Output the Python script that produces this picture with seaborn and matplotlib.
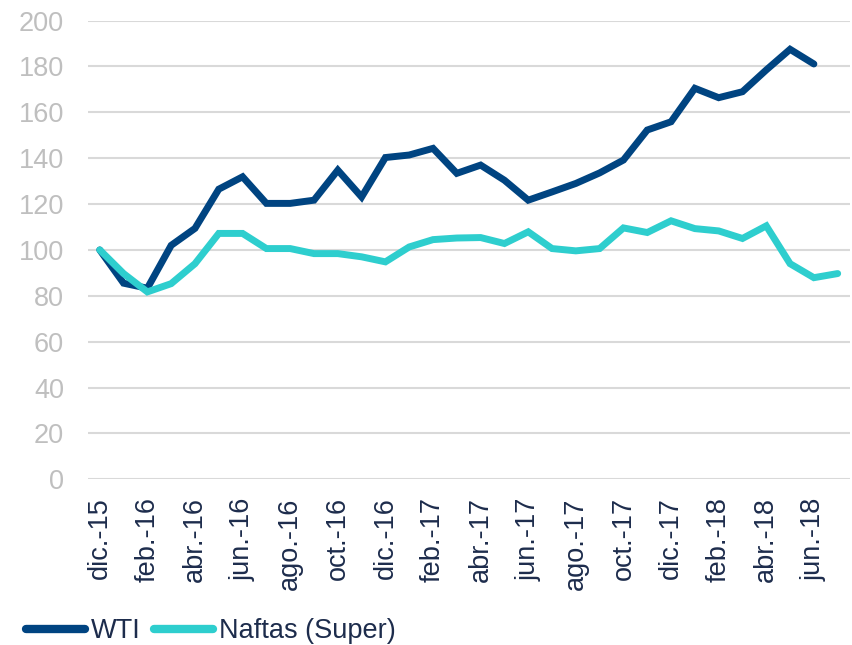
import numpy as np
import pandas as pd
import matplotlib
matplotlib.use("Agg")
import matplotlib.pyplot as plt
import seaborn as sns

meses = ["dic.-15", "ene.-16", "feb.-16", "mar.-16", "abr.-16", "may.-16", "jun.-16", "jul.-16",
         "ago.-16", "sep.-16", "oct.-16", "nov.-16", "dic.-16", "ene.-17", "feb.-17", "mar.-17",
         "abr.-17", "may.-17", "jun.-17", "jul.-17", "ago.-17", "sep.-17", "oct.-17", "nov.-17",
         "dic.-17", "ene.-18", "feb.-18", "mar.-18", "abr.-18", "may.-18", "jun.-18", "jul.-18"]
wti = [100, 85.5, 83.3, 102, 109.4, 126.5, 131.9, 120.3, 120.3, 121.7, 134.8, 123.1, 140.3,
       141.4, 144.3, 133.4, 137, 130.4, 121.7, 125.3, 129, 133.6, 139.2, 152.3, 155.9, 170.5,
       166.4, 169, 178.5, 187.5, 181.1, np.nan]
naftas = [100, 89.7, 81.7, 85.3, 94, 107.2, 107.2, 100.6, 100.6, 98.4, 98.4, 97, 94.8, 101.3,
          104.5, 105.2, 105.4, 102.8, 107.9, 100.6, 99.6, 100.6, 109.6, 107.6, 112.7, 109.3,
          108.3, 105, 110.5, 94, 87.9, 89.7]

df = pd.DataFrame({"idx": range(len(meses)), "WTI": wti, "Naftas (Super)": naftas})
df = df.melt(id_vars="idx", var_name="serie", value_name="valor").dropna()

sns.set_style("white")
plt.rcParams['font.family'] = ['Liberation Sans', 'DejaVu Sans']

fig = plt.figure(figsize=(8.53, 6.45), dpi=100)
ax = fig.add_axes([0.103, 0.257, 0.893, 0.711])

sns.lineplot(data=df, x="idx", y="valor", hue="serie",
             palette={"WTI": "#004481", "Naftas (Super)": "#2ECECE"},
             linewidth=5, ax=ax, solid_capstyle="round", solid_joinstyle="miter")

ax.set_xlim(-0.5, len(meses) - 0.5)
ax.set_ylim(0, 200)
ax.set_yticks(range(0, 201, 20))
ax.grid(axis="y", color="#d9d9d9", linewidth=1.5)
ax.set_axisbelow(True)
for s in ["top", "right", "left", "bottom"]:
    ax.spines[s].set_visible(False)

ax.set_xticks(range(0, len(meses), 2))
ax.set_xticklabels(meses[::2], rotation=90, fontsize=19.5, color="#1d2c4c")
ax.set_xticks(np.arange(-0.5, len(meses), 2), minor=True)
ax.tick_params(axis="x", which="major", length=0, pad=13)
ax.tick_params(axis="x", which="minor", length=5, width=1.2, color="#d9d9d9")
ax.tick_params(axis="y", length=0, labelsize=19.5, labelcolor="#bfbfbf", pad=17)
ax.set_xlabel("")
ax.set_ylabel("")

handles, labels = ax.get_legend_handles_labels()
ax.get_legend().remove()
leg = fig.legend(handles, labels, loc="center left", bbox_to_anchor=(0.03, 1 - 631 / 645),
                 ncol=2, frameon=False, fontsize=19.5, handlelength=2.2,
                 handletextpad=0.2, columnspacing=0.5, borderpad=0, borderaxespad=0)
for t in leg.get_texts():
    t.set_color("#1d2c4c")
for h in leg.get_lines():
    h.set_linewidth(6)

fig.savefig("out.png", dpi=100)
